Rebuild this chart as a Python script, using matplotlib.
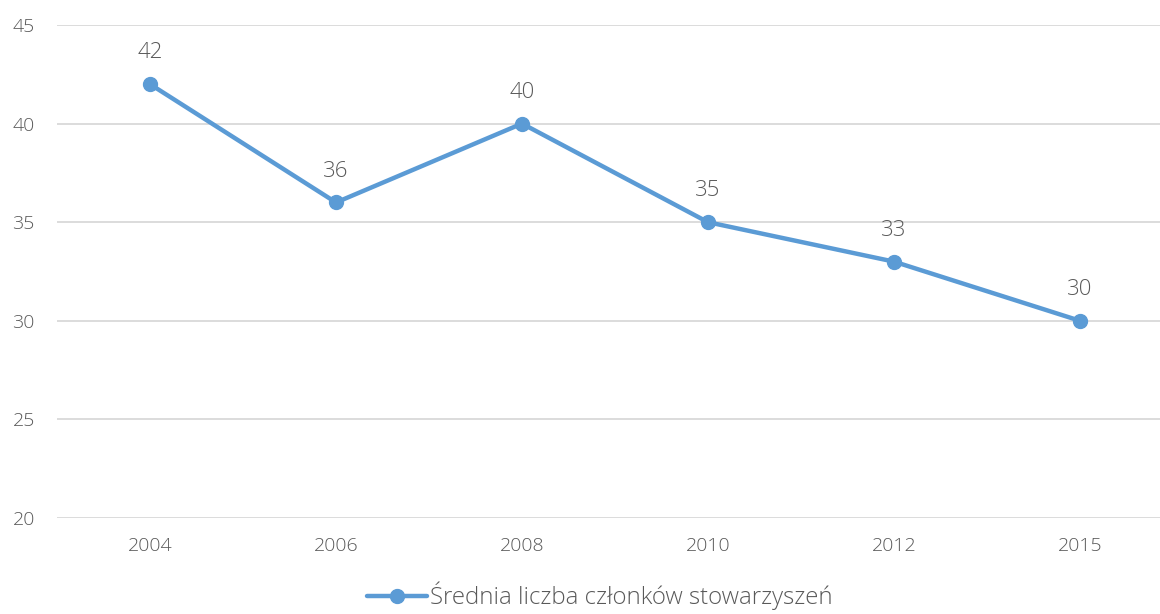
import matplotlib.pyplot as plt

plt.rcParams['font.family'] = ['Open Sans', 'DejaVu Sans']
plt.rcParams['font.weight'] = 'light'

years = ['2004', '2006', '2008', '2010', '2012', '2015']
members = [42, 36, 40, 35, 33, 30]
series_name = 'Średnia liczba członków stowarzyszeń'

line_color = '#5B9BD5'
text_color = '#595959'
grid_color = '#D9D9D9'

fig = plt.figure(figsize=(11.6, 6.14), dpi=100)
ax = fig.add_axes([57 / 1160, 1 - 518 / 614, 1 - 57 / 1160, (518 - 25) / 614])

x = list(range(len(years)))
ax.plot(x, members, color=line_color, linewidth=3.2, marker='o', markersize=10,
        label=series_name, solid_capstyle='round')

for xi, v in zip(x, members):
    ax.annotate(str(v), (xi, v), xytext=(0, 15), textcoords='offset points',
                ha='center', va='bottom', fontsize=16, color=text_color)

ax.set_xlim(-0.5, 5.43)
ax.set_ylim(20, 45)
ax.set_yticks([20, 25, 30, 35, 40, 45])
ax.set_xticks(x)
ax.set_xticklabels(years)
ax.tick_params(axis='both', length=0, labelsize=14, colors=text_color)
ax.tick_params(axis='x', pad=14)
ax.tick_params(axis='y', pad=16)
ax.grid(axis='y', color=grid_color, linewidth=1.3)
ax.set_axisbelow(True)
for s in ax.spines.values():
    s.set_visible(False)

leg = fig.legend(loc='lower center', bbox_to_anchor=(0.517, 0.0), frameon=False,
                 fontsize=17.3, handlelength=2.5, handletextpad=0.1,
                 borderaxespad=0.05, borderpad=0.1)
for t in leg.get_texts():
    t.set_color(text_color)

fig.savefig('out.png', dpi=100)
